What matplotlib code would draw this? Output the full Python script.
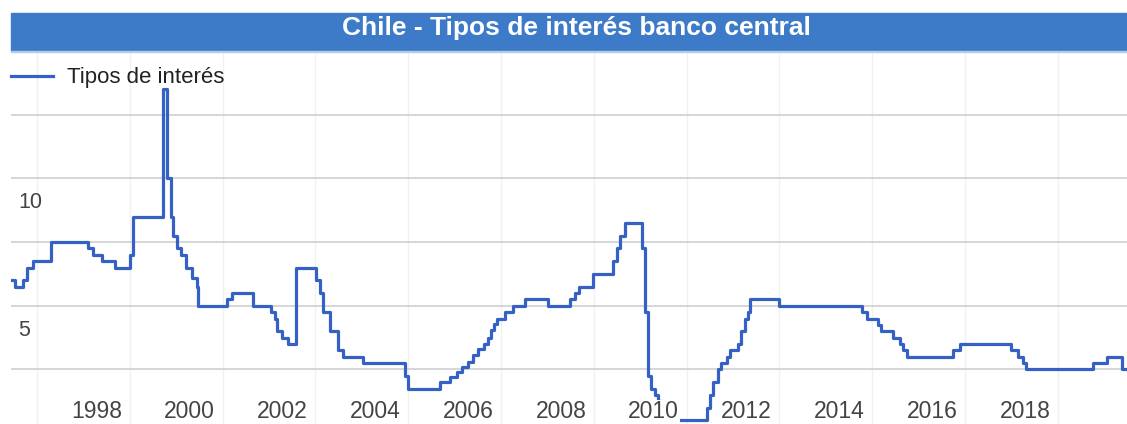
import matplotlib.pyplot as plt
from matplotlib.patches import Rectangle


# Tasa de política monetaria (fecha decimal, % anual), escalonada
FECHAS = [
    1995.44, 1995.52, 1995.69, 1995.78, 1995.91, 1996.30, 1997.10, 1997.20,
    1997.40, 1997.68, 1998.00, 1998.06, 1998.71, 1998.81, 1998.88, 1998.93,
    1999.01, 1999.11, 1999.22, 1999.33, 1999.44, 1999.47, 2000.09, 2000.20,
    2000.66, 2001.05, 2001.13, 2001.18, 2001.27, 2001.41, 2001.59, 2002.02,
    2002.09, 2002.17, 2002.31, 2002.48, 2002.59, 2003.03, 2003.93, 2003.99,
    2004.68, 2004.90, 2005.05, 2005.16, 2005.28, 2005.39, 2005.50, 2005.63,
    2005.72, 2005.78, 2005.84, 2005.91, 2006.08, 2006.25, 2006.51, 2007.01,
    2007.48, 2007.59, 2007.68, 2007.98, 2008.41, 2008.50, 2008.57, 2008.67,
    2009.03, 2009.10, 2009.17, 2009.24, 2009.31, 2009.38, 2009.47, 2010.43,
    2010.50, 2010.57, 2010.68, 2010.75, 2010.86, 2010.93, 2011.11, 2011.18,
    2011.25, 2011.33, 2011.36, 2012.00, 2013.77, 2013.88, 2014.12, 2014.18,
    2014.45, 2014.59, 2014.66, 2014.74, 2015.74, 2015.89, 2017.00, 2017.14,
    2017.24, 2017.32, 2018.76, 2019.05, 2019.39, 2019.49,
]
TASAS = [
    6.0, 5.75, 6.0, 6.5, 6.75, 7.5, 7.25, 7.0,
    6.75, 6.5, 7.0, 8.5, 13.5, 10.0, 8.5, 7.75,
    7.25, 7.0, 6.5, 6.1, 5.75, 5.0, 5.25, 5.5,
    5.0, 4.75, 4.5, 4.0, 3.75, 3.5, 6.5, 6.0,
    5.5, 4.75, 4.0, 3.25, 3.0, 2.75, 2.25, 1.75,
    2.0, 2.2, 2.4, 2.6, 2.8, 3.05, 3.3, 3.5,
    3.75, 4.05, 4.3, 4.5, 4.75, 5.0, 5.25, 5.0,
    5.25, 5.5, 5.75, 6.25, 6.75, 7.25, 7.75, 8.25,
    7.25, 4.75, 2.25, 1.75, 1.5, 1.25, 0.5, 1.0,
    1.5, 2.0, 2.5, 2.75, 3.0, 3.25, 3.5, 4.0,
    4.5, 4.75, 5.25, 5.0, 4.75, 4.5, 4.25, 4.0,
    3.75, 3.5, 3.25, 3.0, 3.25, 3.5, 3.25, 3.0,
    2.75, 2.5, 2.75, 3.0, 2.5, 2.5,
]

ANIOS_GRILLA = list(range(1996, 2020, 2))
ANIOS_ETIQUETA = list(range(1998, 2020, 2))
Y_GRILLA = [2.5, 5, 7.5, 10, 12.5]
Y_ETIQUETAS = [5, 10]

TITULO = "Chile - Tipos de interés banco central"
SERIE = "Tipos de interés"

AZUL_TITULO = "#3d7bc8"
AZUL_LINEA = "#3561c4"
FUENTE = "Liberation Sans"

W, H = 1127, 424


def dibujar():
    fig = plt.figure(figsize=(W / 100, H / 100), dpi=100)

    # franja del titulo con su borde inferior claro
    fig.patches.append(Rectangle((11 / W, 1 - 51 / H), 1 - 11 / W, 38 / H,
                                 transform=fig.transFigure, color=AZUL_TITULO, zorder=5))
    fig.patches.append(Rectangle((11 / W, 1 - 52 / H), 1 - 11 / W, 1.5 / H,
                                 transform=fig.transFigure, color="#b3cbea", zorder=5))
    fig.text(576 / W, 1 - 35.5 / H, TITULO, color="white", fontsize=19,
             fontweight="bold", family=FUENTE, ha="center", va="baseline", zorder=6)

    ax = fig.add_axes([11 / W, 0, 1 - 11 / W, 1 - 53 / H])
    ax.set_xlim(1995.44, 2019.49)
    ax.set_ylim(0.36, 14.92)

    for a in ANIOS_GRILLA:
        ax.axvline(a, color="#f1f1f1", lw=1, zorder=1)
    for y in Y_GRILLA:
        ax.axhline(y, color="#cccccc", lw=1.1, zorder=1)

    ax.step(FECHAS, TASAS, where="post", color=AZUL_LINEA, lw=2.3, zorder=3,
            label=SERIE)

    for y in Y_ETIQUETAS:
        ax.annotate(str(y), (1995.44, y), xytext=(5, -10), textcoords="offset points",
                    fontsize=15.5, family=FUENTE, color="#444444", va="top", ha="left")

    # las etiquetas de año van dentro del área, algo a la izquierda de su línea
    for a in ANIOS_ETIQUETA:
        ax.text(a - 0.71, 0.58, str(a), fontsize=16.5, family=FUENTE, color="#444444",
                ha="center", va="baseline", zorder=4,
                bbox=dict(facecolor="white", edgecolor="none", pad=0.3))

    ax.legend(loc="center left", bbox_to_anchor=(0, (H - 78) / (H - 53)), frameon=False,
              prop={"family": FUENTE, "size": 16}, handlelength=1.9,
              handletextpad=0.6, borderpad=0, borderaxespad=0,
              labelcolor="#222222")

    ax.set_xticks([])
    ax.set_yticks([])
    for s in ax.spines.values():
        s.set_visible(False)

    fig.savefig("out.png", dpi=100)


if __name__ == "__main__":
    dibujar()
